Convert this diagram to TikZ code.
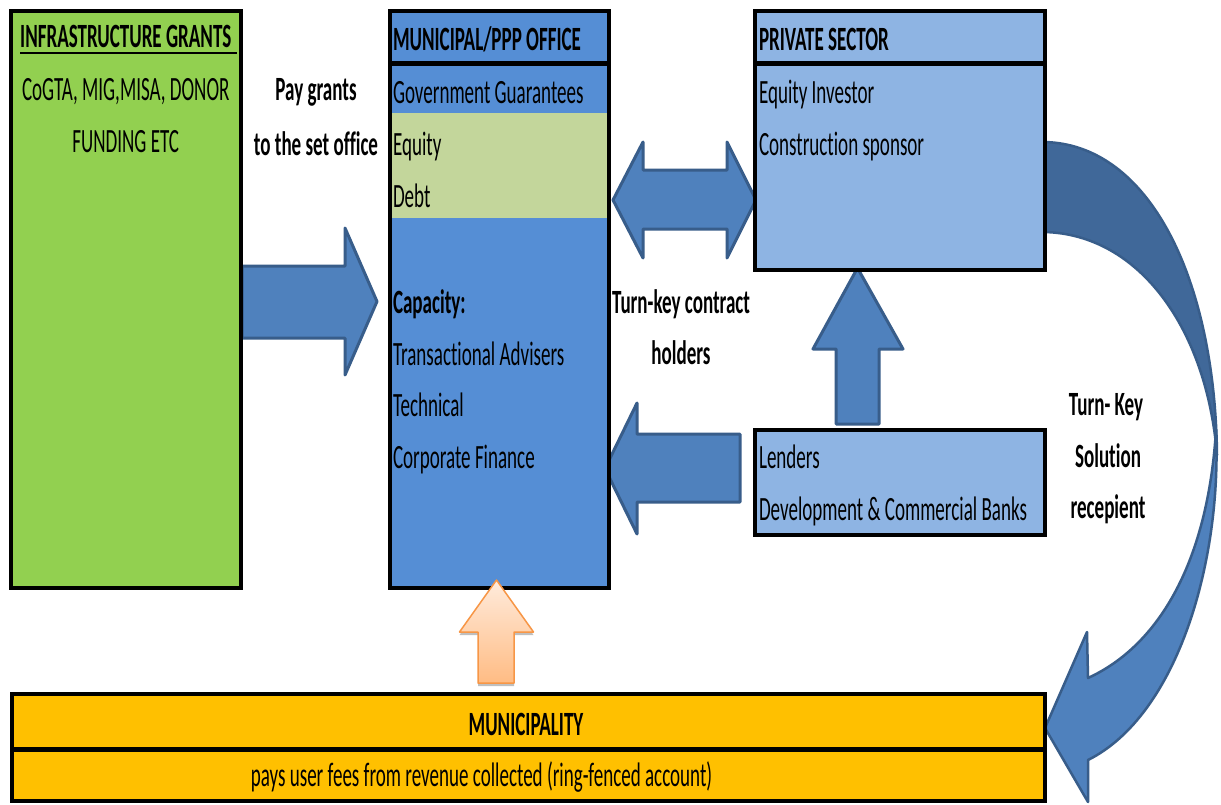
\documentclass[tikz,border=0pt]{standalone}
\usepackage{fontspec}
\setmainfont{Carlito}[FakeStretch=0.56, Ligatures=NoCommon]
\usetikzlibrary{shadows}
\definecolor{grn}{HTML}{92D050}
\definecolor{pppblue}{HTML}{558ED5}
\definecolor{pppgreen}{HTML}{C3D69B}
\definecolor{privblue}{HTML}{8EB4E3}
\definecolor{muniyellow}{HTML}{FFC000}
\definecolor{arrowfill}{HTML}{4F81BD}
\definecolor{arrowdark}{HTML}{406899}
\definecolor{arrowline}{HTML}{385D8A}
\definecolor{orline}{HTML}{F79646}
\definecolor{ortop}{HTML}{FFEBDC}
\definecolor{orbot}{HTML}{FFBC84}
\tikzset{
  boxnode/.style={draw=black, line width=4pt, inner sep=0pt, outer sep=0pt, rectangle,
    drop shadow={shadow xshift=1.5pt, shadow yshift=-2pt, fill=black, opacity=0.9}},
  sepline/.style={draw=black, line width=5pt},
  txt/.style={font=\fontsize{34}{40}\selectfont, inner sep=0pt, outer sep=0pt, anchor=base west},
  ctxt/.style={txt, anchor=base},
  blockarrow/.style={fill=arrowfill, draw=arrowline, line width=3pt, line join=round},
  curvearrow/.style={draw=arrowline, line width=2.5pt, line join=round},
}
\begin{document}
\begin{tikzpicture}[x=1pt,y=-1pt]
\useasboundingbox (0,0) rectangle (1221,804);
\fill[white] (0,0) rectangle (1221,804);

% ---------- block arrows (behind boxes) ----------
\draw[blockarrow] (242,266) -- (345,266) -- (345,228) -- (377,301.5) -- (345,375) -- (345,338) -- (242,338) -- cycle;
\draw[blockarrow] (613,200) -- (643,142) -- (643,170) -- (727,170) -- (727,142) -- (756,200)
  -- (727,258) -- (727,229) -- (643,229) -- (643,258) -- cycle;
\draw[blockarrow] (605,468.5) -- (637,403) -- (637,434) -- (740,434) -- (740,502) -- (637,502) -- (637,534) -- cycle;
\draw[blockarrow] (857.5,268) -- (903,349) -- (879,349) -- (879,424) -- (836,424) -- (836,349) -- (813,349) -- cycle;

% ---------- curved arrow ----------
\draw[curvearrow, fill=arrowdark] (1044,142) .. controls (1150,144) and (1215,280) .. (1217,455)
  .. controls (1207,330) and (1140,234) .. (1044,232) -- cycle;
\draw[curvearrow, fill=arrowfill] (1216,430) .. controls (1222,560) and (1178,715) .. (1088,760)
  -- (1088,802) -- (1045,728) -- (1087,632) -- (1088,678)
  .. controls (1160,645) and (1208,560) .. (1216,430) -- cycle;

% ---------- boxes ----------
\node[boxnode, fill=grn, minimum width=230.5pt, minimum height=577.5pt] (grants) at (125.75,299.25) {};
\node[boxnode, fill=pppblue, minimum width=218.5pt, minimum height=577.5pt] (ppp) at (499.25,299.25) {};
\fill[pppgreen] (392,113) rectangle (606.5,218);
\draw[line width=4pt] (390,10.5) rectangle (608.5,588);
\draw[sepline] (390,63) -- (608.5,63);

\node[boxnode, fill=privblue, minimum width=289.5pt, minimum height=259.5pt] (priv) at (899.75,140.25) {};
\draw[sepline] (755,63) -- (1044.5,63);

\node[boxnode, fill=privblue, minimum width=289.5pt, minimum height=105pt] (lend) at (899.75,482) {};

\node[boxnode, fill=muniyellow, minimum width=1033pt, minimum height=106.5pt] (muni) at (528,747.25) {};
\draw[sepline] (11.5,749) -- (1044.5,749);

% ---------- texts ----------
\node[ctxt] (ig) at (125.75,47) {\bfseries INFRASTRUCTURE GRANTS};
\draw[line width=2pt] ([yshift=-6pt]ig.base west) -- ++(217,0);
\node[ctxt] (ig1) at (125.75,100) {CoGTA, MIG,MISA, DONOR};
\node[ctxt] (ig2) at (125.75,152) {FUNDING ETC};

\node[ctxt] (pg1) at (316,100) {\bfseries Pay grants};
\node[ctxt] (pg2) at (316,155) {\bfseries to the set office};

\node[txt] (pp0) at (393,50) {\bfseries MUNICIPAL/PPP OFFICE};
\node[txt] (pp1) at (393,103) {Government Guarantees};
\node[txt] (pp2) at (393,155) {Equity};
\node[txt] (pp3) at (393,207) {Debt};
\node[txt] (pp4) at (393,313) {\bfseries Capacity:};
\node[txt] (pp5) at (393,365) {Transactional Advisers};
\node[txt] (pp6) at (393,416) {Technical};
\node[txt] (pp7) at (393,468) {Corporate Finance};

\node[ctxt] (tk1) at (681,313) {\bfseries Turn-key contract};
\node[ctxt] (tk2) at (681,364) {\bfseries holders};

\node[txt] (pv0) at (759,50) {\bfseries PRIVATE SECTOR};
\node[txt] (pv1) at (759,103) {Equity Investor};
\node[txt] (pv2) at (759,155) {Construction sponsor};

\node[txt] (ld1) at (759,468) {Lenders};
\node[txt] (ld2) at (759,520) {Development \& Commercial Banks};

\node[ctxt] (ts1) at (1106,415) {\bfseries Turn- Key};
\node[ctxt] (ts2) at (1108,467) {\bfseries Solution};
\node[ctxt] (ts3) at (1108,518) {\bfseries recepient};

\node[ctxt] (mu1) at (526,735) {\bfseries MUNICIPALITY};
\node[ctxt] (mu2) at (481.5,786) {pays user fees from revenue collected (ring-fenced account)};

% ---------- orange arrow ----------
\draw[draw=orline, line width=1.5pt, top color=ortop, bottom color=orbot, line join=round,
  drop shadow={shadow xshift=0pt, shadow yshift=-3pt, fill=black, opacity=0.25}]
  (496.5,580) -- (533.5,632) -- (514,632) -- (514,683) -- (478,683) -- (478,632) -- (459.5,632) -- cycle;
\end{tikzpicture}
\end{document}
